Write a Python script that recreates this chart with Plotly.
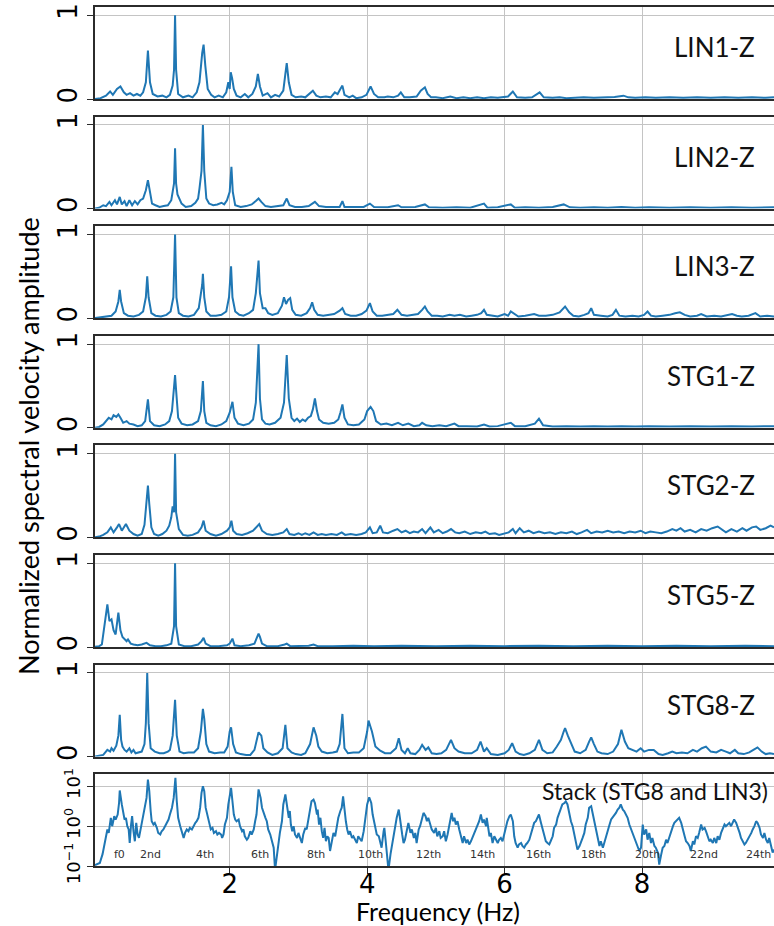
import plotly.graph_objects as go

# ---------------- data (frequency Hz, normalized amplitude) ----------------
LIN1_Z = [(0.03,0.0),(0.12,0.01),(0.2,0.04),(0.26,0.09),(0.3,0.05),(0.36,0.12),(0.41,0.15),(0.46,0.08),(0.5,0.05),(0.55,0.07),(0.6,0.04),(0.65,0.06),(0.7,0.04),(0.74,0.08),(0.78,0.2),(0.81,0.58),(0.84,0.2),(0.88,0.06),(0.95,0.03),(1.02,0.04),(1.08,0.02),(1.13,0.05),(1.17,0.16),(1.19,0.35),(1.205,1.0),(1.22,0.35),(1.25,0.06),(1.32,0.02),(1.4,0.04),(1.46,0.02),(1.52,0.08),(1.56,0.2),(1.6,0.55),(1.62,0.65),(1.645,0.4),(1.68,0.12),(1.73,0.05),(1.78,0.02),(1.84,0.04),(1.9,0.02),(1.95,0.08),(1.98,0.2),(2.0,0.12),(2.015,0.32),(2.035,0.25),(2.06,0.12),(2.1,0.04),(2.16,0.02),(2.22,0.06),(2.27,0.02),(2.33,0.06),(2.38,0.15),(2.41,0.3),(2.44,0.15),(2.48,0.04),(2.55,0.07),(2.6,0.02),(2.66,0.05),(2.72,0.03),(2.78,0.1),(2.81,0.3),(2.83,0.43),(2.86,0.2),(2.9,0.05),(2.96,0.02),(3.04,0.03),(3.1,0.02),(3.16,0.06),(3.21,0.1),(3.26,0.04),(3.32,0.02),(3.4,0.03),(3.47,0.02),(3.53,0.08),(3.57,0.06),(3.61,0.12),(3.64,0.16),(3.67,0.05),(3.74,0.02),(3.79,0.04),(3.84,0.01),(3.92,0.02),(3.99,0.05),(4.05,0.15),(4.1,0.06),(4.16,0.02),(4.25,0.02),(4.3,0.03),(4.38,0.02),(4.45,0.04),(4.49,0.08),(4.54,0.02),(4.62,0.02),(4.72,0.03),(4.78,0.1),(4.84,0.14),(4.88,0.06),(4.93,0.02),(5.0,0.02),(5.1,0.01),(5.21,0.03),(5.3,0.01),(5.4,0.02),(5.5,0.01),(5.6,0.02),(5.7,0.01),(5.8,0.02),(5.9,0.015),(6.05,0.03),(6.12,0.09),(6.18,0.02),(6.3,0.015),(6.4,0.02),(6.51,0.08),(6.57,0.02),(6.7,0.015),(6.8,0.02),(6.9,0.01),(7.0,0.015),(7.15,0.02),(7.3,0.015),(7.45,0.02),(7.6,0.025),(7.73,0.04),(7.8,0.02),(7.9,0.015),(8.05,0.02),(8.2,0.015),(8.4,0.02),(8.6,0.015),(8.8,0.02),(9.0,0.015),(9.2,0.02),(9.4,0.015),(9.6,0.02),(9.8,0.015),(9.92,0.02)]

LIN2_Z = [(0.03,0.0),(0.1,0.01),(0.16,0.04),(0.2,0.03),(0.25,0.08),(0.28,0.04),(0.33,0.1),(0.36,0.05),(0.4,0.14),(0.43,0.05),(0.47,0.09),(0.5,0.03),(0.54,0.1),(0.58,0.04),(0.62,0.09),(0.66,0.05),(0.7,0.1),(0.74,0.12),(0.78,0.22),(0.81,0.34),(0.84,0.2),(0.87,0.06),(0.92,0.04),(0.98,0.02),(1.04,0.03),(1.1,0.04),(1.15,0.1),(1.19,0.3),(1.205,0.72),(1.22,0.3),(1.24,0.17),(1.27,0.12),(1.3,0.06),(1.36,0.02),(1.44,0.03),(1.5,0.07),(1.54,0.12),(1.56,0.24),(1.59,0.45),(1.61,1.0),(1.63,0.45),(1.66,0.12),(1.7,0.06),(1.76,0.04),(1.82,0.05),(1.88,0.07),(1.92,0.05),(1.96,0.1),(2.0,0.2),(2.025,0.5),(2.045,0.2),(2.08,0.04),(2.16,0.02),(2.24,0.03),(2.32,0.05),(2.38,0.09),(2.42,0.12),(2.46,0.08),(2.52,0.03),(2.6,0.02),(2.7,0.03),(2.78,0.04),(2.83,0.12),(2.87,0.04),(2.95,0.02),(3.05,0.02),(3.15,0.03),(3.24,0.08),(3.3,0.03),(3.4,0.02),(3.5,0.02),(3.6,0.02),(3.64,0.09),(3.67,0.02),(3.8,0.02),(3.95,0.02),(4.04,0.06),(4.1,0.02),(4.3,0.015),(4.45,0.04),(4.5,0.015),(4.7,0.02),(4.84,0.05),(4.9,0.015),(5.1,0.01),(5.3,0.015),(5.5,0.01),(5.7,0.06),(5.75,0.01),(5.9,0.015),(6.09,0.05),(6.15,0.01),(6.3,0.015),(6.5,0.01),(6.7,0.02),(6.86,0.05),(6.95,0.015),(7.1,0.01),(7.3,0.015),(7.5,0.01),(7.7,0.02),(7.9,0.01),(8.1,0.015),(8.4,0.01),(8.7,0.015),(9.0,0.01),(9.3,0.015),(9.6,0.01),(9.92,0.015)]

LIN3_Z = [(0.03,0.0),(0.1,0.01),(0.2,0.02),(0.28,0.03),(0.34,0.08),(0.38,0.2),(0.4,0.34),(0.42,0.2),(0.46,0.06),(0.52,0.03),(0.6,0.02),(0.68,0.04),(0.74,0.08),(0.78,0.25),(0.8,0.5),(0.82,0.25),(0.86,0.06),(0.92,0.03),(1.0,0.02),(1.08,0.04),(1.14,0.08),(1.18,0.25),(1.205,1.0),(1.225,0.25),(1.26,0.06),(1.32,0.03),(1.4,0.02),(1.48,0.04),(1.55,0.12),(1.58,0.29),(1.6,0.4),(1.61,0.53),(1.63,0.25),(1.66,0.08),(1.72,0.03),(1.8,0.03),(1.88,0.04),(1.95,0.08),(1.99,0.25),(2.02,0.62),(2.04,0.25),(2.08,0.08),(2.14,0.04),(2.2,0.03),(2.28,0.06),(2.34,0.1),(2.38,0.3),(2.42,0.69),(2.44,0.3),(2.48,0.12),(2.52,0.12),(2.56,0.06),(2.62,0.04),(2.7,0.06),(2.76,0.15),(2.79,0.25),(2.82,0.17),(2.85,0.22),(2.88,0.24),(2.91,0.1),(2.96,0.04),(3.04,0.03),(3.12,0.06),(3.17,0.12),(3.2,0.19),(3.23,0.1),(3.28,0.04),(3.36,0.03),(3.44,0.04),(3.52,0.05),(3.6,0.09),(3.64,0.12),(3.68,0.05),(3.76,0.03),(3.84,0.03),(3.92,0.05),(3.99,0.09),(4.04,0.18),(4.08,0.08),(4.14,0.03),(4.22,0.03),(4.3,0.04),(4.38,0.05),(4.44,0.1),(4.5,0.04),(4.58,0.03),(4.66,0.04),(4.74,0.05),(4.8,0.1),(4.84,0.14),(4.88,0.08),(4.94,0.03),(5.02,0.03),(5.1,0.02),(5.2,0.04),(5.27,0.03),(5.35,0.04),(5.44,0.02),(5.52,0.03),(5.6,0.04),(5.66,0.06),(5.7,0.1),(5.74,0.04),(5.82,0.03),(5.9,0.02),(6.0,0.05),(6.05,0.03),(6.09,0.08),(6.14,0.05),(6.2,0.02),(6.3,0.03),(6.43,0.05),(6.5,0.03),(6.6,0.03),(6.7,0.04),(6.8,0.07),(6.88,0.14),(6.94,0.07),(7.0,0.03),(7.08,0.02),(7.16,0.04),(7.22,0.06),(7.26,0.12),(7.3,0.04),(7.4,0.03),(7.5,0.02),(7.57,0.04),(7.62,0.1),(7.67,0.03),(7.76,0.02),(7.86,0.03),(7.95,0.02),(8.03,0.04),(8.08,0.08),(8.13,0.03),(8.2,0.02),(8.3,0.03),(8.4,0.04),(8.48,0.06),(8.55,0.07),(8.62,0.04),(8.7,0.02),(8.8,0.03),(8.86,0.05),(8.94,0.02),(9.05,0.03),(9.15,0.02),(9.25,0.04),(9.31,0.05),(9.38,0.03),(9.45,0.02),(9.55,0.03),(9.65,0.06),(9.72,0.02),(9.82,0.03),(9.92,0.02)]

STG1_Z = [(0.03,0.0),(0.1,0.01),(0.16,0.04),(0.2,0.08),(0.24,0.12),(0.28,0.1),(0.31,0.15),(0.35,0.13),(0.38,0.16),(0.41,0.12),(0.45,0.06),(0.5,0.08),(0.54,0.05),(0.6,0.04),(0.66,0.02),(0.72,0.03),(0.77,0.08),(0.81,0.34),(0.84,0.08),(0.9,0.03),(0.98,0.02),(1.06,0.04),(1.12,0.08),(1.16,0.2),(1.19,0.5),(1.205,0.63),(1.22,0.45),(1.25,0.12),(1.3,0.05),(1.38,0.03),(1.46,0.04),(1.54,0.08),(1.58,0.2),(1.61,0.56),(1.63,0.2),(1.66,0.06),(1.72,0.03),(1.8,0.02),(1.88,0.04),(1.95,0.08),(2.0,0.18),(2.04,0.31),(2.07,0.12),(2.12,0.05),(2.2,0.03),(2.28,0.05),(2.34,0.1),(2.38,0.3),(2.42,1.0),(2.44,0.35),(2.47,0.1),(2.52,0.05),(2.58,0.04),(2.66,0.06),(2.74,0.12),(2.79,0.3),(2.83,0.87),(2.86,0.35),(2.9,0.12),(2.94,0.08),(2.98,0.11),(3.02,0.07),(3.06,0.1),(3.1,0.08),(3.14,0.12),(3.18,0.14),(3.21,0.22),(3.24,0.35),(3.27,0.2),(3.3,0.1),(3.36,0.06),(3.44,0.05),(3.52,0.06),(3.58,0.1),(3.61,0.18),(3.64,0.28),(3.67,0.12),(3.72,0.04),(3.8,0.03),(3.88,0.04),(3.96,0.1),(4.0,0.2),(4.05,0.25),(4.09,0.2),(4.13,0.08),(4.2,0.04),(4.28,0.05),(4.36,0.03),(4.45,0.06),(4.52,0.03),(4.6,0.05),(4.68,0.02),(4.76,0.03),(4.8,0.06),(4.86,0.03),(4.95,0.02),(5.05,0.03),(5.15,0.02),(5.27,0.05),(5.33,0.02),(5.45,0.02),(5.6,0.015),(5.7,0.04),(5.78,0.015),(5.9,0.02),(6.09,0.06),(6.15,0.02),(6.3,0.02),(6.44,0.05),(6.5,0.11),(6.56,0.03),(6.7,0.015),(6.9,0.02),(7.1,0.015),(7.3,0.02),(7.5,0.015),(7.7,0.02),(7.9,0.015),(8.1,0.02),(8.4,0.015),(8.7,0.02),(9.0,0.015),(9.3,0.02),(9.6,0.015),(9.92,0.02)]

STG2_Z = [(0.03,0.0),(0.1,0.01),(0.16,0.03),(0.22,0.06),(0.27,0.12),(0.31,0.06),(0.36,0.12),(0.39,0.16),(0.43,0.08),(0.49,0.16),(0.54,0.08),(0.6,0.04),(0.66,0.02),(0.72,0.04),(0.76,0.15),(0.79,0.4),(0.81,0.62),(0.83,0.4),(0.86,0.12),(0.9,0.04),(0.96,0.02),(1.02,0.04),(1.08,0.08),(1.12,0.14),(1.15,0.24),(1.17,0.37),(1.19,0.3),(1.205,1.0),(1.22,0.3),(1.26,0.1),(1.32,0.03),(1.39,0.02),(1.46,0.03),(1.54,0.06),(1.59,0.12),(1.62,0.2),(1.65,0.08),(1.72,0.04),(1.8,0.02),(1.88,0.04),(1.96,0.08),(2.0,0.12),(2.025,0.2),(2.05,0.08),(2.1,0.04),(2.18,0.03),(2.26,0.05),(2.34,0.08),(2.4,0.14),(2.43,0.16),(2.47,0.08),(2.54,0.04),(2.62,0.03),(2.7,0.04),(2.78,0.06),(2.83,0.1),(2.87,0.04),(2.94,0.03),(3.0,0.05),(3.05,0.03),(3.1,0.05),(3.16,0.03),(3.22,0.06),(3.28,0.03),(3.34,0.04),(3.4,0.03),(3.48,0.04),(3.56,0.03),(3.63,0.06),(3.68,0.03),(3.76,0.04),(3.84,0.03),(3.92,0.04),(3.98,0.06),(4.04,0.12),(4.08,0.05),(4.14,0.06),(4.19,0.14),(4.23,0.06),(4.3,0.05),(4.38,0.08),(4.44,0.1),(4.5,0.06),(4.56,0.08),(4.62,0.05),(4.68,0.07),(4.74,0.06),(4.8,0.1),(4.85,0.05),(4.92,0.12),(4.97,0.06),(5.04,0.09),(5.1,0.05),(5.16,0.07),(5.22,0.1),(5.28,0.06),(5.34,0.05),(5.42,0.07),(5.5,0.04),(5.58,0.06),(5.66,0.05),(5.72,0.07),(5.78,0.04),(5.86,0.05),(5.92,0.03),(6.0,0.05),(6.06,0.06),(6.12,0.1),(6.16,0.05),(6.22,0.11),(6.28,0.06),(6.35,0.08),(6.42,0.05),(6.5,0.07),(6.58,0.05),(6.66,0.06),(6.74,0.04),(6.82,0.06),(6.9,0.05),(6.98,0.07),(7.05,0.04),(7.12,0.06),(7.2,0.09),(7.26,0.05),(7.34,0.07),(7.42,0.06),(7.5,0.08),(7.58,0.06),(7.66,0.07),(7.74,0.05),(7.82,0.07),(7.9,0.06),(7.98,0.08),(8.05,0.05),(8.12,0.07),(8.2,0.06),(8.28,0.05),(8.36,0.07),(8.44,0.1),(8.5,0.08),(8.56,0.11),(8.62,0.07),(8.7,0.09),(8.78,0.06),(8.86,0.1),(8.94,0.08),(9.02,0.11),(9.1,0.13),(9.16,0.09),(9.22,0.06),(9.3,0.1),(9.38,0.07),(9.46,0.11),(9.52,0.08),(9.6,0.12),(9.66,0.13),(9.72,0.09),(9.8,0.11),(9.87,0.14),(9.92,0.12)]

STG5_Z = [(0.03,0.0),(0.1,0.01),(0.14,0.03),(0.17,0.23),(0.2,0.4),(0.22,0.51),(0.25,0.31),(0.28,0.33),(0.31,0.2),(0.34,0.15),(0.38,0.41),(0.41,0.2),(0.44,0.12),(0.47,0.1),(0.5,0.07),(0.52,0.09),(0.56,0.04),(0.6,0.03),(0.66,0.02),(0.72,0.03),(0.79,0.05),(0.84,0.02),(0.92,0.01),(1.0,0.01),(1.08,0.02),(1.15,0.04),(1.19,0.25),(1.205,1.0),(1.22,0.25),(1.26,0.03),(1.34,0.01),(1.44,0.01),(1.54,0.03),(1.59,0.07),(1.62,0.11),(1.65,0.04),(1.72,0.01),(1.84,0.01),(1.96,0.02),(2.0,0.04),(2.04,0.1),(2.07,0.02),(2.16,0.01),(2.28,0.02),(2.36,0.04),(2.4,0.12),(2.42,0.16),(2.44,0.12),(2.47,0.04),(2.54,0.01),(2.7,0.01),(2.8,0.03),(2.83,0.04),(2.88,0.01),(3.0,0.01),(3.15,0.015),(3.22,0.03),(3.28,0.01),(3.5,0.01),(3.8,0.015),(4.1,0.01),(4.5,0.015),(5.0,0.01),(5.5,0.015),(6.0,0.01),(6.5,0.015),(7.0,0.01),(7.5,0.015),(8.0,0.01),(8.5,0.015),(9.0,0.01),(9.5,0.015),(9.92,0.01)]

STG8_Z = [(0.03,0.0),(0.1,0.01),(0.16,0.02),(0.22,0.08),(0.26,0.06),(0.28,0.1),(0.31,0.07),(0.35,0.13),(0.38,0.25),(0.4,0.5),(0.42,0.2),(0.44,0.12),(0.47,0.08),(0.5,0.06),(0.54,0.1),(0.57,0.05),(0.6,0.08),(0.63,0.04),(0.68,0.05),(0.72,0.06),(0.76,0.15),(0.78,0.4),(0.8,1.0),(0.82,0.4),(0.85,0.1),(0.91,0.06),(0.98,0.04),(1.04,0.04),(1.1,0.06),(1.13,0.08),(1.17,0.25),(1.205,0.68),(1.23,0.25),(1.27,0.06),(1.33,0.04),(1.4,0.05),(1.48,0.05),(1.54,0.1),(1.58,0.3),(1.6,0.45),(1.61,0.57),(1.63,0.45),(1.66,0.15),(1.7,0.06),(1.78,0.04),(1.86,0.05),(1.92,0.05),(1.97,0.12),(2.0,0.3),(2.02,0.35),(2.05,0.15),(2.09,0.05),(2.16,0.03),(2.24,0.02),(2.3,0.02),(2.36,0.08),(2.4,0.25),(2.42,0.29),(2.46,0.25),(2.49,0.1),(2.55,0.05),(2.62,0.02),(2.7,0.04),(2.77,0.1),(2.81,0.38),(2.84,0.1),(2.9,0.05),(2.96,0.03),(3.04,0.02),(3.1,0.04),(3.17,0.15),(3.22,0.35),(3.26,0.25),(3.29,0.12),(3.34,0.06),(3.42,0.04),(3.5,0.05),(3.56,0.06),(3.6,0.15),(3.64,0.51),(3.67,0.1),(3.72,0.04),(3.8,0.05),(3.88,0.05),(3.95,0.1),(4.0,0.3),(4.02,0.43),(4.07,0.3),(4.12,0.12),(4.19,0.07),(4.26,0.04),(4.34,0.04),(4.42,0.1),(4.46,0.22),(4.5,0.08),(4.55,0.04),(4.59,0.1),(4.63,0.04),(4.7,0.03),(4.76,0.08),(4.8,0.14),(4.85,0.08),(4.89,0.11),(4.94,0.04),(5.01,0.03),(5.08,0.04),(5.15,0.08),(5.22,0.2),(5.27,0.1),(5.33,0.06),(5.42,0.04),(5.52,0.04),(5.6,0.08),(5.65,0.18),(5.7,0.06),(5.74,0.1),(5.8,0.03),(5.9,0.02),(6.0,0.04),(6.06,0.08),(6.11,0.16),(6.16,0.06),(6.22,0.03),(6.28,0.02),(6.36,0.04),(6.44,0.08),(6.5,0.2),(6.55,0.08),(6.62,0.04),(6.7,0.05),(6.76,0.12),(6.82,0.2),(6.86,0.3),(6.88,0.34),(6.92,0.25),(6.97,0.15),(7.02,0.06),(7.1,0.04),(7.18,0.08),(7.23,0.18),(7.26,0.23),(7.3,0.15),(7.35,0.06),(7.41,0.04),(7.5,0.03),(7.58,0.06),(7.65,0.15),(7.7,0.32),(7.75,0.18),(7.8,0.1),(7.86,0.08),(7.92,0.06),(7.98,0.1),(8.03,0.06),(8.1,0.08),(8.17,0.08),(8.24,0.03),(8.3,0.02),(8.38,0.04),(8.44,0.06),(8.5,0.04),(8.58,0.05),(8.66,0.04),(8.74,0.08),(8.8,0.06),(8.87,0.1),(8.93,0.12),(9.0,0.06),(9.08,0.05),(9.15,0.08),(9.22,0.06),(9.28,0.04),(9.35,0.08),(9.4,0.04),(9.48,0.03),(9.56,0.05),(9.62,0.08),(9.68,0.11),(9.74,0.06),(9.8,0.03),(9.86,0.04),(9.92,0.03)]

STACK = [(0.04,0.106),(0.11,0.12),(0.15,0.2),(0.18,0.35),(0.2,0.56),(0.22,0.83),(0.24,0.68),(0.26,1.1),(0.27,1.62),(0.29,1.0),(0.31,1.33),(0.32,1.78),(0.34,1.47),(0.36,1.96),(0.37,1.96),(0.39,3.8),(0.4,7.8),(0.43,3.5),(0.45,1.96),(0.47,1.47),(0.49,1.62),(0.51,1.0),(0.53,0.83),(0.545,0.38),(0.565,1.1),(0.58,1.78),(0.6,0.75),(0.62,0.42),(0.64,1.21),(0.66,0.62),(0.68,0.51),(0.7,0.75),(0.72,1.33),(0.74,1.96),(0.77,2.9),(0.79,5.1),(0.81,14.7),(0.83,7.5),(0.85,2.4),(0.865,1.33),(0.89,1.1),(0.91,1.21),(0.94,0.91),(0.96,0.68),(0.99,0.62),(1.01,0.75),(1.035,0.83),(1.06,1.0),(1.08,1.21),(1.11,1.47),(1.13,1.96),(1.16,2.9),(1.185,5.1),(1.21,16.2),(1.23,4.2),(1.25,1.62),(1.28,1.0),(1.3,0.75),(1.33,0.51),(1.35,0.68),(1.375,0.83),(1.4,0.75),(1.42,0.91),(1.45,0.83),(1.47,1.0),(1.5,1.21),(1.52,1.33),(1.545,1.62),(1.57,2.9),(1.59,6.8),(1.61,10.0),(1.63,7.5),(1.65,2.9),(1.68,1.62),(1.7,1.1),(1.725,0.83),(1.75,0.91),(1.77,0.68),(1.8,0.75),(1.82,0.62),(1.845,0.68),(1.875,0.62),(1.89,0.51),(1.91,0.62),(1.93,1.1),(1.96,1.62),(1.98,3.5),(2.02,9.1),(2.04,4.2),(2.06,1.96),(2.08,1.47),(2.1,1.33),(2.13,1.47),(2.15,1.0),(2.18,0.75),(2.2,0.83),(2.22,0.56),(2.25,0.46),(2.27,0.51),(2.3,0.75),(2.32,0.62),(2.35,0.83),(2.37,1.33),(2.39,1.96),(2.42,8.3),(2.45,5.1),(2.47,2.9),(2.49,2.15),(2.52,1.62),(2.54,1.33),(2.56,0.83),(2.59,0.62),(2.61,0.46),(2.64,0.29),(2.66,0.08),(2.69,0.22),(2.71,0.42),(2.73,0.68),(2.76,1.33),(2.78,3.5),(2.81,6.2),(2.83,3.5),(2.86,1.62),(2.875,2.4),(2.89,1.1),(2.91,0.75),(2.93,1.0),(2.95,0.62),(2.98,0.51),(3.0,0.68),(3.03,0.46),(3.05,0.38),(3.07,0.62),(3.1,0.91),(3.12,0.83),(3.15,1.62),(3.17,2.9),(3.19,4.2),(3.22,4.6),(3.24,3.8),(3.27,1.96),(3.28,2.6),(3.3,1.1),(3.32,1.62),(3.34,0.75),(3.36,0.51),(3.38,0.91),(3.4,0.42),(3.42,0.56),(3.44,0.51),(3.46,0.24),(3.49,0.51),(3.51,0.68),(3.535,0.56),(3.56,1.1),(3.58,1.62),(3.61,2.4),(3.63,2.9),(3.65,5.6),(3.67,2.4),(3.69,1.33),(3.71,0.83),(3.73,0.62),(3.75,0.75),(3.78,0.51),(3.8,0.56),(3.83,0.42),(3.85,0.38),(3.87,0.56),(3.9,0.46),(3.92,0.42),(3.95,0.75),(3.97,1.33),(4.0,3.5),(4.03,5.3),(4.06,3.8),(4.08,1.96),(4.1,1.33),(4.12,0.83),(4.14,0.62),(4.17,0.56),(4.19,0.42),(4.21,0.29),(4.24,0.75),(4.25,0.91),(4.27,0.42),(4.29,0.18),(4.31,0.08),(4.34,0.2),(4.36,0.32),(4.38,0.62),(4.41,1.0),(4.43,1.62),(4.46,2.6),(4.48,1.33),(4.51,0.62),(4.53,0.38),(4.55,0.46),(4.58,0.83),(4.6,1.21),(4.63,0.68),(4.65,0.83),(4.68,0.51),(4.7,0.68),(4.72,0.38),(4.75,0.83),(4.77,1.0),(4.8,1.47),(4.82,2.15),(4.85,1.78),(4.87,1.33),(4.89,1.62),(4.92,1.1),(4.94,0.83),(4.975,0.68),(5.0,0.91),(5.02,0.56),(5.05,0.75),(5.07,0.51),(5.1,0.56),(5.12,0.75),(5.145,0.42),(5.17,0.62),(5.19,1.0),(5.22,1.78),(5.23,2.15),(5.25,1.33),(5.27,1.62),(5.29,1.1),(5.315,1.33),(5.34,0.83),(5.36,0.56),(5.39,0.38),(5.41,0.56),(5.44,0.38),(5.46,0.46),(5.485,0.35),(5.51,0.42),(5.53,0.51),(5.56,0.62),(5.58,0.83),(5.61,1.1),(5.63,1.33),(5.655,1.96),(5.68,1.21),(5.7,1.47),(5.73,1.0),(5.74,1.62),(5.76,0.83),(5.78,0.56),(5.8,0.68),(5.825,0.38),(5.85,0.56),(5.87,0.46),(5.9,0.38),(5.92,0.46),(5.945,0.51),(5.97,0.42),(5.99,0.62),(6.02,1.0),(6.04,1.33),(6.07,1.78),(6.09,1.96),(6.12,1.33),(6.14,0.56),(6.16,0.38),(6.19,0.29),(6.21,0.35),(6.24,0.38),(6.26,0.32),(6.285,0.29),(6.31,0.35),(6.33,0.38),(6.36,0.46),(6.38,0.62),(6.41,0.91),(6.43,1.21),(6.455,1.33),(6.48,1.62),(6.5,1.96),(6.53,1.21),(6.55,0.91),(6.58,0.51),(6.6,0.42),(6.625,0.38),(6.65,0.35),(6.67,0.42),(6.7,0.56),(6.72,0.91),(6.75,1.1),(6.77,1.62),(6.795,2.15),(6.82,2.9),(6.84,3.5),(6.87,3.8),(6.89,4.2),(6.915,3.5),(6.94,1.96),(6.965,1.33),(6.99,1.0),(7.01,0.68),(7.04,0.38),(7.06,0.26),(7.09,0.32),(7.11,0.42),(7.135,0.51),(7.16,0.68),(7.18,1.1),(7.21,1.62),(7.23,2.9),(7.26,3.16),(7.28,2.15),(7.305,1.47),(7.33,1.0),(7.35,0.68),(7.38,0.32),(7.4,0.42),(7.43,0.29),(7.45,0.38),(7.475,0.56),(7.5,0.83),(7.52,1.0),(7.55,1.47),(7.57,1.62),(7.6,1.96),(7.62,2.15),(7.645,2.6),(7.67,2.9),(7.69,3.5),(7.72,2.6),(7.74,2.4),(7.77,1.78),(7.79,1.62),(7.815,1.1),(7.84,0.83),(7.86,0.68),(7.89,0.51),(7.91,0.42),(7.935,0.32),(7.96,0.24),(7.985,0.29),(8.01,1.1),(8.03,0.62),(8.06,0.83),(8.08,0.46),(8.105,0.68),(8.13,0.38),(8.15,0.51),(8.18,0.32),(8.2,0.29),(8.23,0.22),(8.25,0.11),(8.28,0.2),(8.3,0.29),(8.325,0.32),(8.35,0.46),(8.37,0.38),(8.4,0.56),(8.42,0.75),(8.45,1.0),(8.47,1.21),(8.49,1.33),(8.52,1.47),(8.54,1.62),(8.57,1.21),(8.59,0.83),(8.62,0.56),(8.64,0.42),(8.664,0.38),(8.69,0.32),(8.71,0.24),(8.74,0.42),(8.76,0.35),(8.785,0.56),(8.81,0.51),(8.83,0.68),(8.86,1.1),(8.88,0.83),(8.91,0.91),(8.93,0.75),(8.955,0.56),(8.98,0.42),(9.0,0.46),(9.03,0.38),(9.05,0.51),(9.08,0.38),(9.1,0.56),(9.125,0.46),(9.15,0.68),(9.17,0.83),(9.2,1.1),(9.22,1.0),(9.25,1.1),(9.27,1.21),(9.295,1.0),(9.32,1.33),(9.34,1.47),(9.37,1.21),(9.39,1.0),(9.42,0.68),(9.44,0.51),(9.465,0.42),(9.49,0.35),(9.51,0.38),(9.54,0.46),(9.56,0.56),(9.59,0.68),(9.61,0.83),(9.635,1.0),(9.66,1.33),(9.68,1.21),(9.71,0.91),(9.73,0.62),(9.76,0.51),(9.78,0.68),(9.805,0.46),(9.83,0.38),(9.85,0.51),(9.88,0.29),(9.9,0.22),(9.925,0.26)]

PANEL_NAMES = ["LIN1-Z", "LIN2-Z", "LIN3-Z", "STG1-Z", "STG2-Z", "STG5-Z", "STG8-Z", "Stack (STG8 and LIN3)"]
HARMONIC_LABELS = ["f0", "2nd", "4th", "6th", "8th", "10th", "12th", "14th", "16th", "18th", "20th", "22nd", "24th"]
HARMONIC_FREQS = [0.39, 0.85, 1.64, 2.44, 3.25, 4.05, 4.89, 5.68, 6.5, 7.29, 8.08, 8.9, 9.69]
X_TICKS = [2, 4, 6, 8]
Y_TICKS_LIN = [0, 1]
Y_TICKS_LOG = [0.1, 1, 10]
Y_TICKTEXT_LOG = ["10<sup>\u22121</sup>", "10<sup>0</sup>", "10<sup>1</sup>"]

# ---------------- figure ----------------
W, H = 774, 926
LEFT = 95
TOP0, PITCH, PH = 7, 109.6, 92
BLUE = "#1f77b4"
GRID = "#c4c4c4"
FRAME = "#2b2b2b"

series = [LIN1_Z, LIN2_Z, LIN3_Z, STG1_Z, STG2_Z, STG5_Z, STG8_Z, STACK]

fig = go.Figure()
layout = dict(
    width=W, height=H, margin=dict(l=0, r=0, t=0, b=0, autoexpand=False),
    paper_bgcolor="white", plot_bgcolor="white", showlegend=False,
    font=dict(family="DejaVu Sans", color="black"),
)
annotations = []
for i, data in enumerate(series):
    n = i + 1
    fx = [p[0] for p in data]
    fy = [p[1] for p in data]
    fig.add_trace(go.Scatter(x=fx, y=fy, mode="lines",
                             line=dict(color=BLUE, width=2),
                             xaxis=f"x{n}", yaxis=f"y{n}", hoverinfo="skip"))
    top = TOP0 + PITCH * i
    bot = top + PH
    dom = [1 - bot / H, 1 - top / H]
    last = (i == len(series) - 1)
    layout[f"xaxis{n}"] = dict(
        domain=[LEFT / W, 1], range=[0.04, 9.92], anchor=f"y{n}", automargin=False,
        tickvals=X_TICKS, showticklabels=last, ticks="outside" if last else "",
        ticklen=6, tickcolor=FRAME, tickfont=dict(size=26, family="DejaVu Sans"),
        ticklabelstandoff=-12,
        showgrid=True, gridcolor=GRID, gridwidth=1, zeroline=False,
        showline=True, mirror=True, linecolor=FRAME, linewidth=1.5,
    )
    ya = dict(
        domain=dom, anchor=f"x{n}", automargin=False, showgrid=True, gridcolor=GRID, gridwidth=1,
        zeroline=False, showline=True, mirror=False, linecolor=FRAME, linewidth=1.5,
        ticks="outside", ticklen=6, tickcolor=FRAME, tickangle=-90,
    )
    if last:
        ya.update(type="log", range=[-1, 1.3], tickvals=Y_TICKS_LOG, ticktext=Y_TICKTEXT_LOG,
                  tickfont=dict(size=18, family="DejaVu Sans"))
    else:
        ya.update(range=[0, 1.1], tickvals=Y_TICKS_LIN, tickfont=dict(size=26, family="DejaVu Sans"))
    layout[f"yaxis{n}"] = ya

    # panel label
    if last:
        annotations.append(dict(text=PANEL_NAMES[i], xref="paper", yref="paper",
                                x=770 / W, y=1 - (top + 17) / H, xanchor="right", yanchor="middle",
                                showarrow=False, font=dict(family="Lato", size=23, color="#111")))
    else:
        annotations.append(dict(text=PANEL_NAMES[i], xref="paper", yref="paper",
                                x=757 / W, y=1 - (top + 40) / H, xanchor="right", yanchor="middle",
                                showarrow=False, font=dict(family="Lato", size=26, color="#111")))

# harmonic labels in stack panel
for lab, f in zip(HARMONIC_LABELS, HARMONIC_FREQS):
    annotations.append(dict(text=lab, xref="x8", yref="paper", x=f, y=1 - 854 / H,
                            xanchor="center", yanchor="middle", showarrow=False,
                            font=dict(family="DejaVu Sans", size=11, color="#333")))

annotations.append(dict(text="Normalized spectral velocity amplitude", xref="paper", yref="paper",
                        x=28 / W, y=1 - 446 / H, textangle=-90, showarrow=False,
                        xanchor="center", yanchor="middle",
                        font=dict(family="Lato", size=27, color="black")))
annotations.append(dict(text="Frequency (Hz)", xref="paper", yref="paper",
                        x=438 / W, y=1 - 911 / H, showarrow=False,
                        xanchor="center", yanchor="middle",
                        font=dict(family="Lato", size=25, color="black")))
layout["annotations"] = annotations
fig.update_layout(**layout)
fig.write_html("out.html")
